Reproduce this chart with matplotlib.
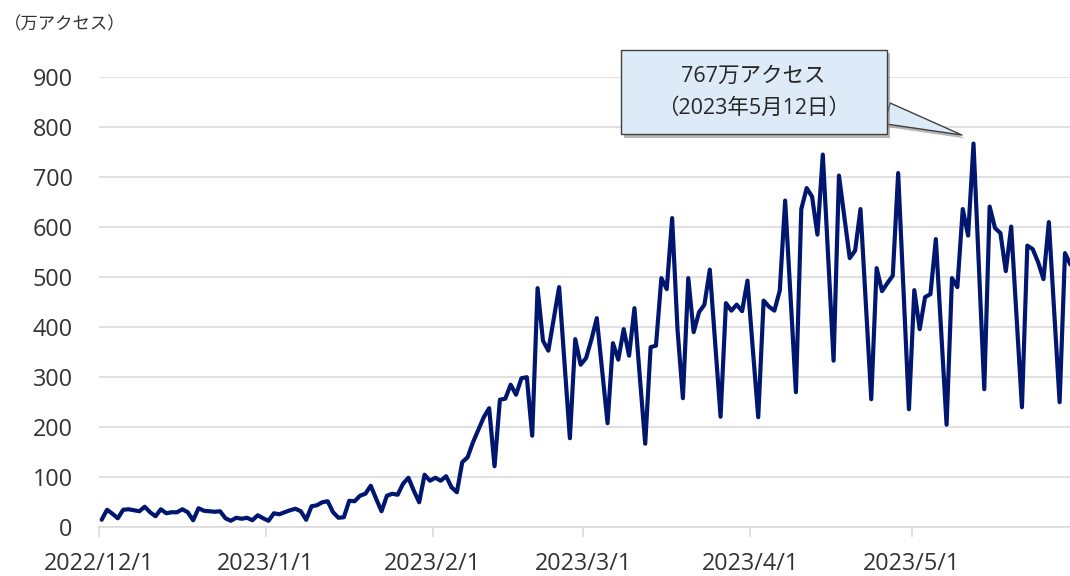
import matplotlib
matplotlib.use("Agg")
import matplotlib.pyplot as plt
import matplotlib.dates as mdates
import matplotlib.patheffects as pe
from matplotlib.path import Path
import pandas as pd

# Open Sans for the digits, Noto CJK for the Japanese
plt.rcParams['font.family'] = ['Open Sans', 'Noto Sans CJK JP', 'DejaVu Sans']

# daily accesses (万アクセス), 2022/12/1 - 2023/5/30
dec = [15, 35, 27, 18, 35, 36, 34, 32, 41, 30, 22, 36, 28, 30, 30, 36,
       30, 14, 38, 33, 32, 31, 32, 18, 13, 19, 17, 19, 14, 24, 18]
jan = [13, 28, 26, 30, 34, 37, 32, 15, 42, 44, 50, 52, 30, 19, 20, 53,
       52, 63, 67, 83, 57, 32, 63, 67, 65, 87, 99, 73, 50, 105, 93]
feb = [99, 93, 102, 80, 70, 130, 140, 170, 195, 220, 238, 122, 255, 257,
       285, 265, 298, 300, 183, 478, 373, 353, 416, 480, 329, 178, 376, 325]
mar = [338, 375, 418, 313, 208, 368, 335, 396, 343, 438, 300, 167, 360,
       363, 498, 476, 618, 395, 258, 498, 390, 430, 445, 515, 368, 221,
       448, 433, 445, 432, 493]
apr = [355, 220, 453, 441, 433, 473, 653, 460, 270, 636, 678, 661, 585,
       745, 540, 333, 703, 620, 538, 553, 636, 445, 256, 518, 472, 488,
       503, 708, 470, 236]
may = [474, 396, 460, 466, 576, 390, 205, 498, 480, 636, 583, 767, 520,
       276, 641, 598, 588, 512, 601, 420, 240, 563, 556, 530, 496, 610,
       430, 250, 548, 525]

values = dec + jan + feb + mar + apr + may
dates = pd.date_range('2022-12-01', periods=len(values), freq='D')

y_ticks = [0, 100, 200, 300, 400, 500, 600, 700, 800, 900]
unit_label = '（万アクセス）'
peak_label = '767万アクセス\n（2023年5月12日）'

line_color = '#00166f'
grid_color = '#d9d9d9'
text_color = '#333333'

fig = plt.figure(figsize=(10.7, 5.76), dpi=100)
ax = fig.add_axes([0.0925, 0.0846, 0.9075, 0.7817])

ax.plot(dates + pd.Timedelta(hours=12), values, color=line_color,
        lw=3.0, solid_joinstyle='round', solid_capstyle='round', zorder=3)

start = pd.Timestamp('2022-12-01')
ax.set_xlim(start, start + pd.Timedelta(days=180.43))
ax.set_ylim(0, 900)
ax.set_yticks(y_ticks)

ax.xaxis.set_major_locator(mdates.MonthLocator())
ax.xaxis.set_major_formatter(plt.FuncFormatter(
    lambda v, pos: '{0.year}/{0.month}/{0.day}'.format(mdates.num2date(v))))

ax.grid(axis='y', color=grid_color, lw=1.1)
ax.set_axisbelow(True)
for s in ['top', 'right', 'left']:
    ax.spines[s].set_visible(False)
ax.spines['bottom'].set_color(grid_color)
ax.spines['bottom'].set_linewidth(1.1)

ax.tick_params(axis='y', length=0, pad=19, labelsize=16.8, labelcolor=text_color)
ax.tick_params(axis='x', length=7, width=1.1, color=grid_color, pad=10.5,
               labelsize=16.8, labelcolor=text_color)

fig.text(0.004, 1 - 25 / 576, unit_label, fontsize=12.5, color=text_color,
         ha='left', va='center')


# rectangle with wider side padding for the callout
def callout_box(x0, y0, width, height, mutation_size):
    padx = 1.7 * mutation_size
    pady = 0.72 * mutation_size
    x0, y0 = x0 - padx, y0 - pady
    x1, y1 = x0 + width + 2 * padx, y0 + height + 2 * pady
    return Path([(x0, y0), (x1, y0), (x1, y1), (x0, y1), (x0, y0)],
                closed=True)


imax = values.index(max(values))
peak_x = dates[imax] + pd.Timedelta(hours=12)
shadow = [pe.withSimplePatchShadow(offset=(2.5, -2.5), shadow_rgbFace='#888888',
                                   alpha=0.6)]
ann = ax.annotate(peak_label,
                  xy=(peak_x - pd.Timedelta(days=2.15), values[imax] + 17),
                  xytext=(-150, 31), textcoords='offset points',
                  ha='center', va='center', fontsize=15.5, color='#262626',
                  linespacing=1.7, annotation_clip=False,
                  bbox=dict(boxstyle=callout_box, fc='#dcebf7', ec='#404040',
                            lw=1.0),
                  arrowprops=dict(arrowstyle='wedge,tail_width=1.0',
                                  fc='#dcebf7', ec='#404040', lw=1.0,
                                  relpos=(1.0, 0.3), shrinkA=0, shrinkB=0))
ann.get_bbox_patch().set_path_effects(shadow)
ann.arrow_patch.set_path_effects(shadow)

fig.savefig('out.png', dpi=100)
